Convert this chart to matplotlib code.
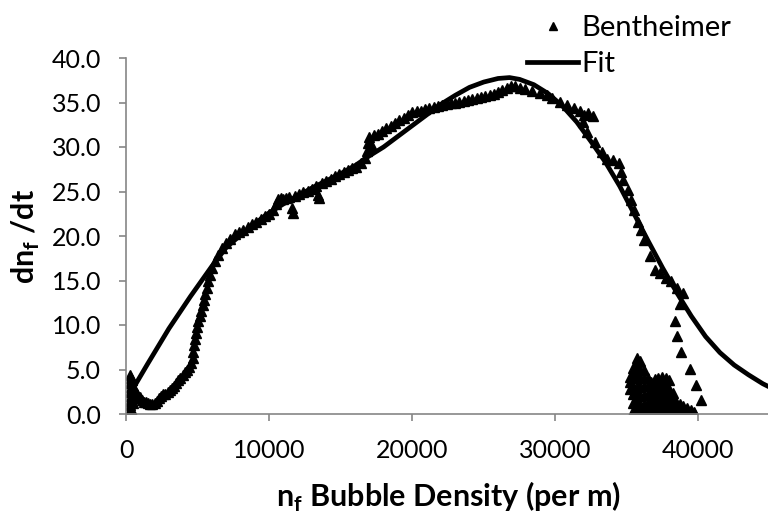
import matplotlib
matplotlib.use('Agg')
import matplotlib.pyplot as plt
from matplotlib.lines import Line2D
import numpy as np

plt.rcParams['font.family'] = ['Lato', 'DejaVu Sans']
plt.rcParams['mathtext.fontset'] = 'custom'
plt.rcParams['mathtext.rm'] = 'Lato'
plt.rcParams['mathtext.bf'] = 'Lato:bold'

# Bentheimer data in segments
start_x = [200, 250, 300, 300, 350, 300, 350, 300, 350, 300, 450, 500, 600, 400, 500, 600]
start_y = [0.0, 0.5, 1.0, 1.5, 2.0, 2.5, 3.0, 3.5, 4.0, 4.4, 3.8, 3.0, 2.6, 0.3, 1.2, 1.8]

rise_x = [700, 800, 950, 1100, 1250, 1400, 1550, 1700, 1850, 2000, 2150, 2300, 2450, 2600,
          2750, 2900, 3050, 3200, 3350, 3500, 3650, 3800, 3950, 4100, 4250, 4400, 4550, 4650,
          4700, 4750, 4800, 4870, 4950, 5050, 5150, 5250, 5350, 5450, 5550, 5650, 5750, 5850,
          6000, 6200, 6400, 6700, 7000, 7300, 7600, 7900, 8200, 8500, 8800, 9100, 9400, 9700,
          10000, 10300]
rise_y = [2.5, 2.2, 1.9, 1.6, 1.4, 1.3, 1.2, 1.1, 1.1, 1.2, 1.5, 1.8, 2.0, 2.2,
          2.3, 2.5, 2.7, 2.9, 3.2, 3.5, 3.8, 4.1, 4.4, 4.7, 5.0, 5.3, 5.7, 6.3,
          7.0, 7.7, 8.4, 9.1, 9.8, 10.4, 11.0, 11.6, 12.2, 12.8, 13.5, 14.2, 14.9, 15.6,
          16.4, 17.2, 17.9, 18.6, 19.2, 19.7, 20.2, 20.4, 20.7, 21.0, 21.3, 21.6, 21.9, 22.2,
          22.5, 22.9]

mid_x = [10500, 10600, 10800, 11000, 11200, 11400, 11600, 11700, 11800, 12100, 12400, 12700,
         13000, 13300, 13400, 13500, 13700, 14000, 14300, 14600, 14900, 15200, 15500, 15800,
         16100, 16400, 16700, 16850, 16900, 17000, 17200, 17300, 17600, 17900, 18200, 18500,
         18800, 19100, 19400, 19700, 20000, 20300, 20600, 20900, 21200, 21500, 21800, 22100,
         22400, 22700, 23000, 23300, 23600, 23900, 24200, 24500, 24800, 25100, 25400, 25700,
         26000, 26300, 26600, 26900, 27200, 27500]
mid_y = [23.6, 24.2, 24.3, 24.2, 24.3, 24.4, 23.1, 22.6, 24.5, 24.7, 24.9, 25.1,
         25.3, 25.6, 24.6, 24.3, 25.9, 26.2, 26.4, 26.7, 27.0, 27.2, 27.4, 27.6,
         27.8, 28.2, 28.8, 29.6, 30.5, 31.1, 30.1, 31.3, 31.5, 31.8, 32.1, 32.4,
         32.7, 33.0, 33.3, 33.6, 33.9, 34.0, 34.1, 34.3, 34.4, 34.5, 34.6, 34.7,
         34.8, 34.9, 35.0, 35.1, 35.2, 35.3, 35.4, 35.5, 35.6, 35.7, 35.8, 36.0,
         36.2, 36.4, 36.6, 36.8, 36.8, 36.6]

fall_x = [27900, 28400, 28900, 29400, 29800, 30300, 30800, 31300, 31700, 32000, 32300, 32600,
          31900, 32240, 32750, 33260, 33600, 34000, 34460, 34600, 34720, 35060, 35300, 35530,
          35760, 36000, 36230, 36580, 36930, 37300, 37700, 38090, 38500, 38900]
fall_y = [36.5, 36.3, 36.1, 35.8, 35.5, 35.1, 34.7, 34.4, 34.0, 33.6, 33.8, 33.5,
          32.8, 31.7, 30.6, 29.4, 28.7, 28.5, 28.2, 27.2, 26.3, 25.2, 24.0, 22.9,
          21.6, 20.7, 19.6, 17.7, 16.2, 15.8, 15.3, 14.9, 14.2, 13.6]

tail_x = [38720, 38390, 38490, 38810, 39420, 39840, 40190]
tail_y = [12.4, 10.5, 8.8, 7.0, 5.1, 3.3, 1.6]

blob_x = [35200, 35200, 35200,
          35450, 35450, 35450, 35450, 35450, 35450,
          35700, 35700, 35700, 35700, 35700, 35700, 35700, 35700,
          35950, 35950, 35950, 35950, 35950, 35950, 35950,
          36200, 36200, 36200, 36200, 36200, 36200,
          36450, 36450, 36450, 36450, 36450,
          36700, 36700, 36700, 36700, 36700,
          36950, 36950, 36950, 36950, 36950,
          37200, 37200, 37200, 37200, 37200,
          37450, 37450, 37450, 37450, 37450,
          37700, 37700, 37700, 37700, 37700,
          37950, 37950, 37950, 37950, 37950,
          38200, 38200, 38200, 38200,
          38450, 38450, 38450,
          38700, 38700, 38700,
          38950, 38950, 38950,
          39200, 39200, 39200,
          39450, 39450,
          39700, 39700]
blob_y = [2.8, 3.6, 4.2,
          0.3, 1.2, 2.2, 3.2, 4.3, 5.2,
          0.2, 1.0, 2.0, 3.0, 4.0, 5.0, 5.8, 6.3,
          0.1, 1.0, 2.0, 3.0, 4.0, 5.0, 5.9,
          0.2, 1.1, 2.1, 3.1, 4.1, 5.0,
          0.3, 1.2, 2.2, 3.1, 4.0,
          0.2, 1.0, 1.9, 2.8, 3.6,
          0.4, 1.3, 2.2, 3.1, 3.9,
          0.5, 1.4, 2.3, 3.2, 4.1,
          0.6, 1.5, 2.4, 3.3, 4.2,
          0.5, 1.3, 2.2, 3.1, 4.0,
          0.4, 1.2, 2.0, 2.8, 3.8,
          0.3, 1.0, 1.7, 2.4,
          0.3, 0.9, 1.4,
          0.2, 0.7, 1.1,
          0.2, 0.6, 0.9,
          0.1, 0.5, 0.7,
          0.1, 0.4,
          0.1, 0.2]

# fitted curve
fit_x = [400, 1500, 3000, 4500, 6000, 7000, 8000, 9000, 10000, 11000, 12000, 13000, 14000,
         15000, 16000, 17000, 18000, 19000, 20000, 21000, 22000, 23000, 24000, 25000, 26000,
         26800, 27500, 28500, 29500, 30500, 31500, 32500, 33500, 34500, 35500, 36500, 37500,
         38500, 39500, 40500, 41500, 42500, 43500, 44500, 45000]
fit_y = [2.6, 5.6, 9.6, 13.2, 16.6, 18.7, 20.1, 21.4, 22.6, 23.6, 24.5, 25.4, 26.2,
         27.0, 27.9, 29.0, 30.0, 31.2, 32.4, 33.6, 34.8, 35.8, 36.7, 37.3, 37.7,
         37.8, 37.6, 37.0, 36.0, 34.6, 32.8, 30.6, 28.3, 25.6, 22.5, 19.4, 16.4,
         13.6, 11.0, 8.7, 6.9, 5.5, 4.4, 3.4, 3.0]

bx = np.concatenate([start_x, rise_x, mid_x, fall_x, tail_x, blob_x])
by = np.concatenate([start_y, rise_y, mid_y, fall_y, tail_y, blob_y])

fig = plt.figure(figsize=(7.68, 5.28), dpi=100)
ax = fig.add_axes([126 / 768, 114 / 528, 644 / 768, 356 / 528])

ax.plot(bx, by, linestyle='none', marker='^', ms=7, color='black', mec='black', zorder=2)
ax.plot(fit_x, fit_y, color='black', lw=3.4, zorder=3, solid_capstyle='round')

ax.set_xlim(0, 45000)
ax.set_ylim(0, 40)
ax.set_xticks([0, 10000, 20000, 30000, 40000])
ax.set_yticks(np.arange(0, 41, 5))
ax.yaxis.set_major_formatter(plt.FormatStrFormatter('%.1f'))

grey = '#868686'
for s in ['top', 'right']:
    ax.spines[s].set_visible(False)
for s in ['left', 'bottom']:
    ax.spines[s].set_color(grey)
    ax.spines[s].set_linewidth(1.2)
ax.tick_params(axis='both', color=grey, width=1.2, length=5, labelsize=18, direction='out')
ax.tick_params(axis='x', pad=13)
ax.tick_params(axis='y', pad=13)

ax.set_xlabel(r'n$_\mathregular{f}$ Bubble Density (per m)', fontsize=22, fontweight='bold')
ax.set_ylabel(r'dn$_\mathregular{f}$ /dt', fontsize=22, fontweight='bold')
ax.xaxis.set_label_coords(0.5, -(507 - 414) / 356, transform=ax.transAxes)
ax.xaxis.label.set_va('baseline')
ax.yaxis.set_label_coords((42 - 126) / 644, 0.5)

handles = [Line2D([], [], linestyle='none', marker='^', ms=6, color='black'),
           Line2D([], [], color='black', lw=3.4)]
fig.legend(handles, ['Bentheimer', 'Fit'], loc='upper left', frameon=False,
           bbox_to_anchor=(527 / 768, 1 - 15 / 528), fontsize=21, handlelength=1.75,
           handletextpad=0.12, labelspacing=0.35, borderpad=0, borderaxespad=0)

fig.savefig('out.png', dpi=100)
